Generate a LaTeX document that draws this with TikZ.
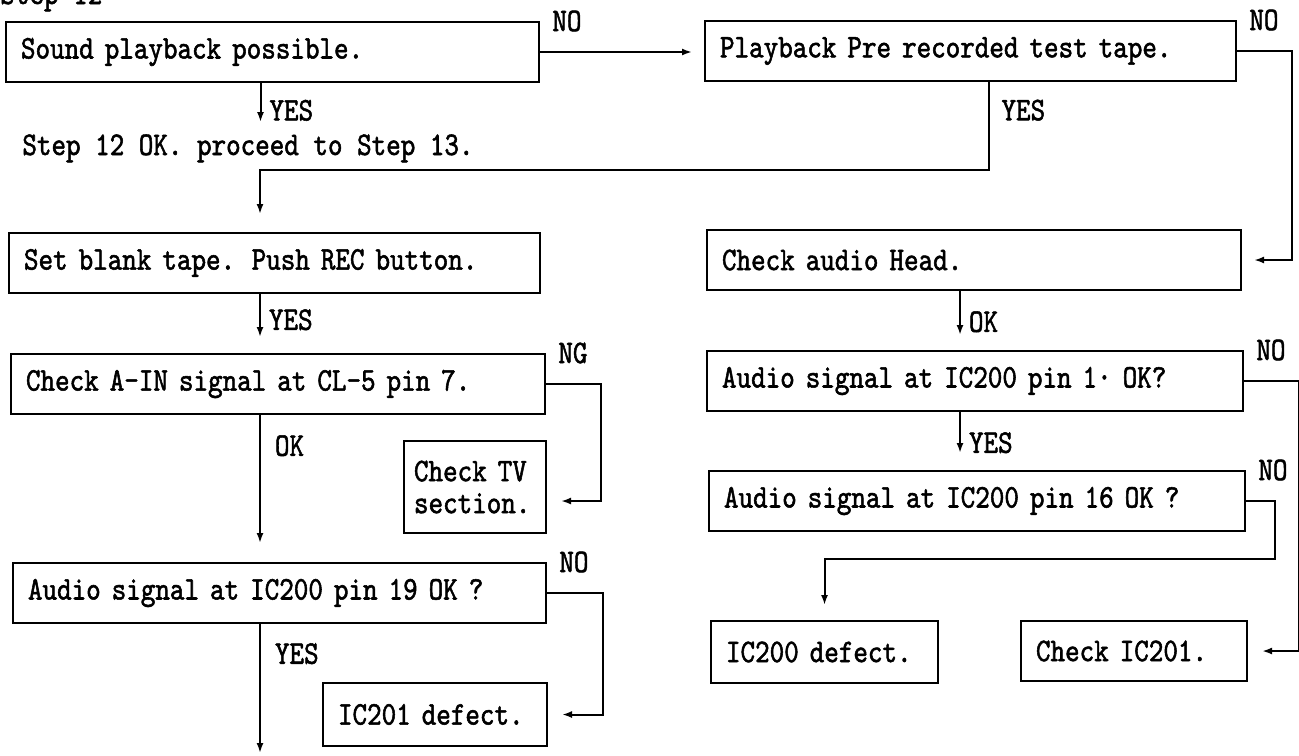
\documentclass[tikz,border=0pt]{standalone}
\usepackage{fontspec}
\usepackage{tikz}
\usetikzlibrary{positioning, arrows.meta}
\newfontfamily\chartfont{lmmono10-regular.otf}[FakeStretch=0.84, FakeBold=1.6]

\begin{document}
\begin{tikzpicture}[x=0.5pt, y=-0.5pt, font=\chartfont\fontsize{16.5}{16}\selectfont,
    block/.style={rectangle, draw, line width=1pt, anchor=north west, align=left, inner xsep=7.5pt, inner ysep=0pt, minimum height=30pt, text width=#1},
    lbl/.style={inner sep=1pt},
    arr/.style={-{Latex[length=5pt,width=3.5pt]}, line width=1pt}]
    \useasboundingbox (0,0) rectangle (1299,755);
    \clip (0,0) rectangle (1299,755);
    \coordinate (lx) at (260,0);
    \coordinate (rx) at (960,0);
    \coordinate (yesturn) at (260,170);
    \coordinate (bottomend) at (260,753);

    \node (title) [anchor=base west, inner sep=0pt] at (0,4) {Step 12};
    \node (sound) [block=251.5pt] at (5,21) {Sound playback possible.};
    \node (testtape) [block=250.5pt] at (704,20) {Playback Pre recorded test tape.};
    \node (proceed) [anchor=base west, inner sep=0pt] at (22,155) {Step 12 OK. proceed to Step 13.};
    \node (blank) [block=250.5pt] at (8,232) {Set blank tape. Push REC button.};
    \node (head) [block=252pt] at (706,229) {Check audio Head.};
    \node (ain) [block=252pt] at (10,353) {Check A-IN signal at CL-5 pin 7.};
    \node (tv) [block=61pt, inner xsep=5pt, minimum height=46pt] at (403,440) {Check TV\\section.};
    \node (pin19) [block=251.5pt] at (12,562) {Audio signal at IC200 pin 19 OK ?};
    \node (ic201def) [block=97pt, minimum height=31.5pt] at (322,682) {IC201 defect.};
    \node (pin1) [block=253pt] at (706,350) {Audio signal at IC200 pin 1· OK?};
    \node (pin16) [block=253pt] at (708,470) {Audio signal at IC200 pin 16 OK ?};
    \node (ic200def) [block=98.5pt, minimum height=31pt] at (710,620) {IC200 defect.};
    \node (chk201) [block=98pt] at (1020,620) {Check IC201.};

    \node (noSound) [lbl, right=5pt of sound.north east] {NO};
    \node (noTape) [lbl, right=5pt of testtape.north east] {NO};
    \node (ngAin) [lbl, right=5pt of ain.north east] {NG};
    \node (noPin19) [lbl, right=5pt of pin19.north east] {NO};
    \node (noPin1) [lbl, right=5pt of pin1.north east] {NO};
    \node (noPin16) [lbl, right=5pt of pin16.north east] {NO};

    % left column
    \draw [arr] (sound.east) -- ([xshift=-6pt]sound.east -| testtape.west);
    \draw [arr] ([xshift=-6pt]sound.south) -- ([xshift=-6pt,yshift=6pt]sound.south |- proceed.north) node [lbl, pos=0.7, right=3pt] {YES};
    \draw [arr] ([xshift=9pt]testtape.south) |- node [lbl, pos=0.16, right=5pt] {YES} (yesturn) -- ([yshift=9pt]yesturn |- blank.north);
    \draw [arr] (lx |- blank.south) -- ([yshift=8pt]lx |- ain.north) node [lbl, pos=0.6, right=3pt] {YES};
    \draw [arr] (ain.east) -- ++(55,0) |- ([xshift=7pt,yshift=-7pt]tv.east);
    \draw [arr] (lx |- ain.south) -- ([yshift=9.5pt]lx |- pin19.north) node [lbl, pos=0.24, right=6pt] {OK};
    \draw [arr] (pin19.east) -- ++(56,0) |- ([xshift=7pt]ic201def.east);
    \draw [arr] (lx |- pin19.south) -- (bottomend) node [lbl, pos=0.23, right=6pt] {YES};

    % right column
    \draw [arr] (testtape.east) -- ++(55,0) |- ([xshift=6pt]head.east);
    \draw [arr] (rx |- head.south) -- ([yshift=7.5pt]rx |- pin1.north) node [lbl, pos=0.7, right=3pt] {OK};
    \draw [arr] (rx |- pin1.south) -- ([yshift=8.5pt]rx |- pin16.north) node [lbl, pos=0.75, right=3pt] {YES};
    \draw [arr] (pin1.east) -- ++(55,0) |- ([xshift=7pt]chk201.east);
    \draw [arr] (pin16.east) -- ++(29,0) -- ++(0,58) -| ([yshift=7.5pt]ic200def.north);
\end{tikzpicture}
\end{document}
